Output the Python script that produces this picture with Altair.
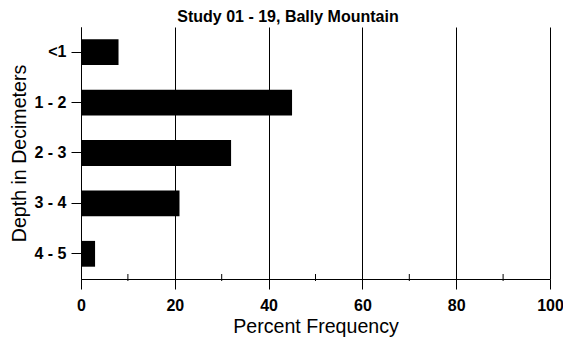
import altair as alt
import pandas as pd

depths = ["<1", "1 - 2", "2 - 3", "3 - 4", "4 - 5"]
percents = [8, 45, 32, 21, 3]
major_ticks = [0, 20, 40, 60, 80, 100]
minor_ticks = [10, 30, 50, 70, 90]

W, H = 469, 252
FONT = "Liberation Sans"

df = pd.DataFrame({"depth": depths, "pct": percents})
minor = pd.DataFrame({"pct": minor_ticks})

x_scale = alt.Scale(domain=[0, 100], nice=False, zero=True)

bars = alt.Chart(df).mark_bar(color="black").encode(
    x=alt.X(
        "pct:Q",
        scale=x_scale,
        axis=alt.Axis(
            values=major_ticks,
            title="Percent Frequency",
            grid=True,
            gridColor="black",
            gridWidth=1,
            domainColor="black",
            tickColor="black",
            tickSize=10,
            labelPadding=8,
            labelFont=FONT,
            labelFontSize=16,
            labelFontWeight="bold",
            labelColor="black",
            titleFont=FONT,
            titleFontSize=19.6,
            titleFontWeight="normal",
            titleColor="black",
            titlePadding=4,
            labelFlush=False,
        ),
    ),
    y=alt.Y(
        "depth:N",
        sort=depths,
        scale=alt.Scale(paddingInner=0.488, paddingOuter=0.244),
        axis=alt.Axis(
            title="Depth in Decimeters",
            grid=False,
            domainColor="black",
            tickColor="black",
            tickSize=10,
            labelPadding=5,
            labelFont=FONT,
            labelFontSize=16,
            labelFontWeight="bold",
            labelColor="black",
            titleFont=FONT,
            titleFontSize=19.6,
            titleFontWeight="normal",
            titleColor="black",
            titlePadding=4,
        ),
    ),
)

ticks = alt.Chart(minor).mark_rule(color="black", strokeWidth=1).encode(
    x=alt.X("pct:Q", scale=x_scale),
    y=alt.value(H - 5),
    y2=alt.value(H + 2),
)

chart = (
    alt.layer(bars, ticks)
    .properties(
        width=W,
        height=H,
        title=alt.TitleParams(
            "Study 01 - 19, Bally Mountain",
            font=FONT,
            fontSize=16,
            fontWeight="bold",
            color="black",
            anchor="middle",
            offset=2.5,
            dx=-27.5,
        ),
        padding={"left": 73, "top": 19, "right": 13, "bottom": 58},
        autosize="none",
    )
    .configure_view(stroke=None)
)

chart.save("out.html", embed_options={"renderer": "svg", "actions": False})
